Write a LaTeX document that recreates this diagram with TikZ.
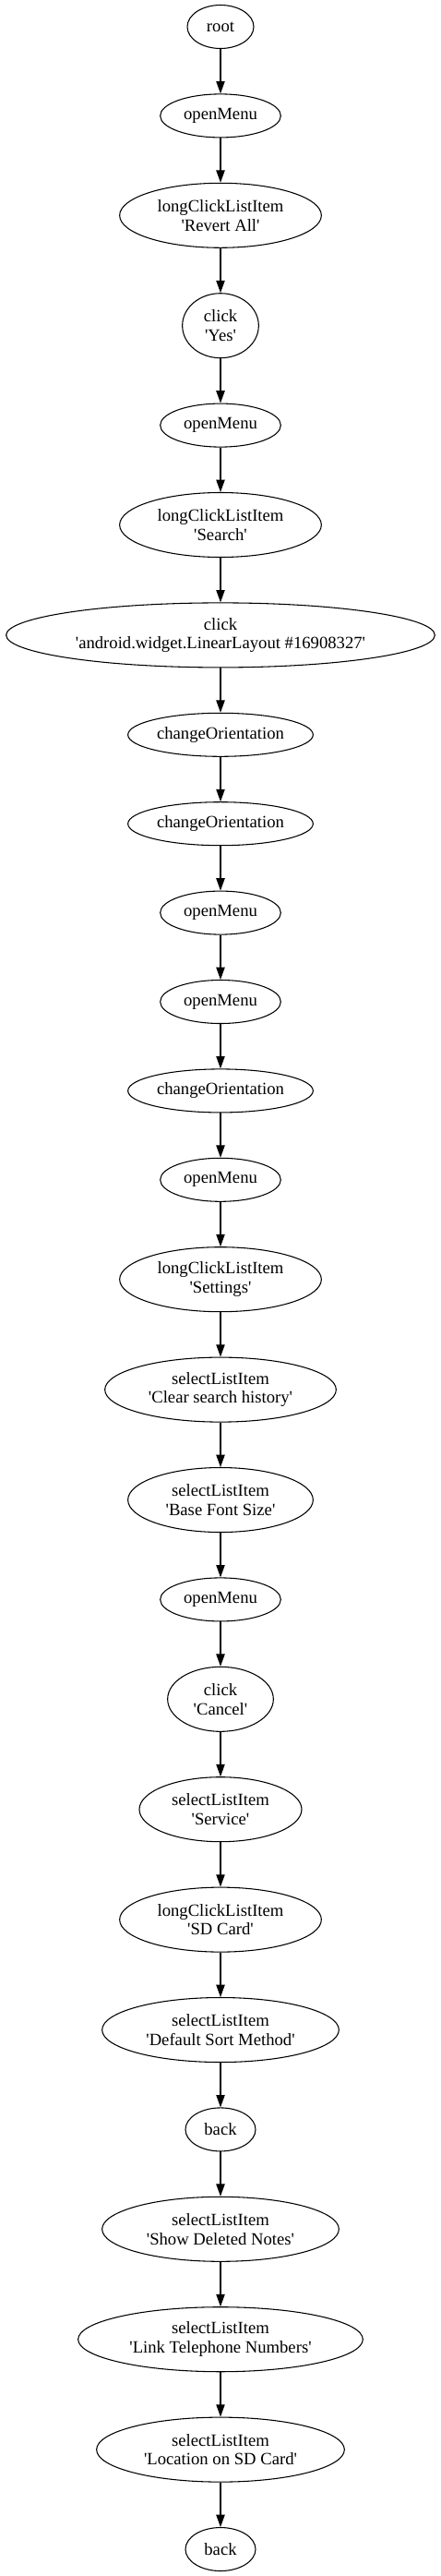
\documentclass[tikz,border=0pt]{standalone}
\usepackage{fontspec}
\setmainfont{Liberation Serif}
\usetikzlibrary{shapes.geometric,arrows.meta,positioning}
\newcommand{\quoted}[1]{\textquotesingle#1\textquotesingle}

\begin{document}
\begin{tikzpicture}[
  node distance=36.25pt,
  font=\fontsize{14}{15.5}\selectfont,
  act/.style={ellipse, draw, line width=0.8pt, inner sep=0pt, align=center,
              minimum width=#1, minimum height=35.25pt},
  act2/.style={act=#1, minimum height=52.5pt},
  arr/.style={-{Triangle[length=10pt, width=7pt]}, line width=0.8pt}
]
\useasboundingbox (0,0) rectangle (358.5pt,-2092.5pt);

% ---- first part ----
\node[act=54pt] (root) at (179.25pt,-21.75pt) {root};
\node[act=98pt, below=of root] (menuA) {openMenu};
\node[act2=164pt, below=of menuA] (revert) {longClickListItem\\\quoted{Revert All}};
\node[act2=62pt, below=of revert] (yes) {click\\\quoted{Yes}};
\node[act=98pt, below=of yes] (menuB) {openMenu};
\node[act2=164pt, below=of menuB] (search) {longClickListItem\\\quoted{Search}};
\node[act2=348.5pt, below=of search] (linear)
  {click\\\quoted{android.widget.LinearLayout \#16908327}};

% ---- rotations and menus ----
\node[act=150.5pt, below=of linear] (rotA) {changeOrientation};
\node[act=150.5pt, below=of rotA] (rotB) {changeOrientation};
\node[act=98pt, below=of rotB] (menuC) {openMenu};
\node[act=98pt, below=of menuC] (menuD) {openMenu};
\node[act=150.5pt, below=of menuD] (rotC) {changeOrientation};
\node[act=98pt, below=of rotC] (menuE) {openMenu};

% ---- settings ----
\node[act2=164pt, below=of menuE] (settings) {longClickListItem\\\quoted{Settings}};
\node[act2=188pt, below=of settings] (clear) {selectListItem\\\quoted{Clear search history}};
\node[act2=150.5pt, below=of clear] (fontsize) {selectListItem\\\quoted{Base Font Size}};
\node[act=98pt, below=of fontsize] (menuF) {openMenu};
\node[act2=86pt, below=of menuF] (cancel) {click\\\quoted{Cancel}};
\node[act2=132pt, below=of cancel] (service) {selectListItem\\\quoted{Service}};
\node[act2=164pt, below=of service] (sdcard) {longClickListItem\\\quoted{SD Card}};
\node[act2=192.5pt, below=of sdcard] (sortm) {selectListItem\\\quoted{Default Sort Method}};
\node[act=57pt, below=of sortm] (backA) {back};
\node[act2=192.5pt, below=of backA] (deleted) {selectListItem\\\quoted{Show Deleted Notes}};
\node[act2=231.5pt, below=of deleted] (phone) {selectListItem\\\quoted{Link Telephone Numbers}};
\node[act2=201.5pt, below=of phone] (location) {selectListItem\\\quoted{Location on SD Card}};
\node[act=57pt, below=of location] (backB) {back};

% arrows
\draw[arr] (root) -- (menuA);
\draw[arr] (menuA) -- (revert);
\draw[arr] (revert) -- (yes);
\draw[arr] (yes) -- (menuB);
\draw[arr] (menuB) -- (search);
\draw[arr] (search) -- (linear);
\draw[arr] (linear) -- (rotA);
\draw[arr] (rotA) -- (rotB);
\draw[arr] (rotB) -- (menuC);
\draw[arr] (menuC) -- (menuD);
\draw[arr] (menuD) -- (rotC);
\draw[arr] (rotC) -- (menuE);
\draw[arr] (menuE) -- (settings);
\draw[arr] (settings) -- (clear);
\draw[arr] (clear) -- (fontsize);
\draw[arr] (fontsize) -- (menuF);
\draw[arr] (menuF) -- (cancel);
\draw[arr] (cancel) -- (service);
\draw[arr] (service) -- (sdcard);
\draw[arr] (sdcard) -- (sortm);
\draw[arr] (sortm) -- (backA);
\draw[arr] (backA) -- (deleted);
\draw[arr] (deleted) -- (phone);
\draw[arr] (phone) -- (location);
\draw[arr] (location) -- (backB);
\end{tikzpicture}
\end{document}
